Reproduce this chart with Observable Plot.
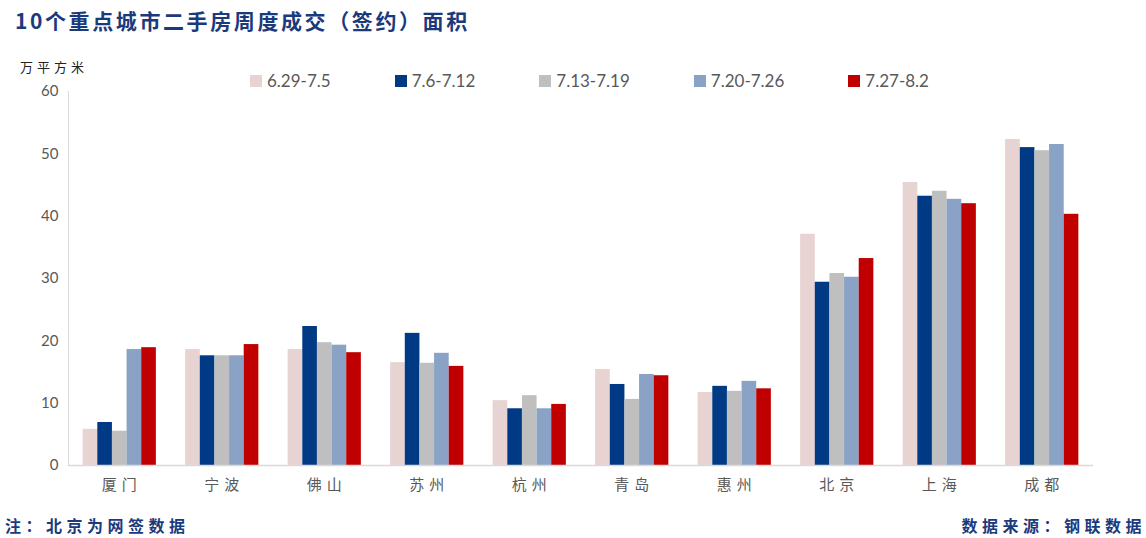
<!DOCTYPE html>
<html>
<head>
<meta charset="utf-8">
<script src="https://cdn.jsdelivr.net/npm/d3@7"></script>
<script src="https://cdn.jsdelivr.net/npm/@observablehq/plot@0.6"></script>
<style>
  html, body { margin: 0; padding: 0; background: #fff; }
  #wrap { position: relative; width: 1146px; height: 538px; overflow: hidden; font-family: "Noto Sans CJK SC", "Noto Sans", sans-serif; }
  #chart { position: absolute; left: 0; top: 0; }
  #chart g[aria-label="x-axis tick label"] text { letter-spacing: 5px; }
  .title { position: absolute; left: 15px; top: 5px; font-size: 21px; font-weight: 700; color: #1B3A7C; letter-spacing: 2.6px; white-space: nowrap; }
  .unit { position: absolute; left: 20px; top: 57px; font-size: 13px; color: #222; letter-spacing: 4px; }
  .legend { position: absolute; left: 250px; top: 70px; display: flex; gap: 64px; font-family: Lato, "Noto Sans", sans-serif; font-size: 17px; color: #595959; }
  .legend .item { display: flex; align-items: center; }
  .legend .sw { width: 12px; height: 12px; margin-right: 5px; }
  .foot { position: absolute; top: 513px; font-size: 16px; font-weight: 700; color: #1B3A7C; letter-spacing: 4.5px; white-space: nowrap; }
</style>
</head>
<body>
<div id="wrap">
  <div id="chart"></div>
  <div class="title">10个重点城市二手房周度成交（签约）面积</div>
  <div class="unit">万平方米</div>
  <div class="legend" id="legend"></div>
  <div class="foot" style="left:5px;">注：北京为网签数据</div>
  <div class="foot" style="right:0px;">数据来源：钢联数据</div>
</div>
<script>
const cities = ["厦门","宁波","佛山","苏州","杭州","青岛","惠州","北京","上海","成都"];
const periods = ["6.29-7.5","7.6-7.12","7.13-7.19","7.20-7.26","7.27-8.2"];
const week1 = [5.8, 18.6, 18.6, 16.5, 10.4, 15.4, 11.7, 37.1, 45.4, 52.3];
const week2 = [6.9, 17.6, 22.3, 21.2, 9.1, 13.0, 12.7, 29.4, 43.2, 51.0];
const week3 = [5.5, 17.6, 19.7, 16.4, 11.2, 10.6, 11.9, 30.8, 44.0, 50.5];
const week4 = [18.6, 17.6, 19.3, 18.0, 9.1, 14.6, 13.5, 30.2, 42.7, 51.5];
const week5 = [18.9, 19.4, 18.1, 15.9, 9.8, 14.4, 12.3, 33.2, 42.0, 40.3];
const yTicks = [0, 10, 20, 30, 40, 50, 60];
const colors = ["#E8D3D3", "#003A84", "#BFBFBF", "#8AA2C6", "#C00000"];

const series = [week1, week2, week3, week4, week5];
const rows = [];
cities.forEach((c, i) => {
  periods.forEach((p, j) => {
    rows.push({city: c, period: p, key: c + "|" + p, value: series[j][i]});
  });
});
// band domain: one empty slot on each side of every city group
const xDomain = cities.flatMap(c => [c + "|<", ...periods.map(p => c + "|" + p), c + "|>"]);
const xTicks = cities.map(c => c + "|" + periods[2]);

const chart = Plot.plot({
  width: 1146,
  height: 538,
  marginLeft: 68,
  marginRight: 53,
  marginTop: 91,
  marginBottom: 73,
  style: {fontFamily: "Lato, 'Noto Sans', sans-serif", background: "#fff"},
  x: {type: "band", domain: xDomain, padding: 0, axis: null},
  y: {domain: [0, 60], axis: null},
  color: {domain: periods, range: colors},
  marks: [
    Plot.frame({anchor: "left", stroke: "#D9D9D9"}),
    Plot.barY(rows, {x: "key", y: "value", fill: "period"}),
    Plot.ruleY([0], {stroke: "#D9D9D9", strokeWidth: 1.5}),
    Plot.axisY({ticks: yTicks, tickSize: 0, tickPadding: 10, fontSize: 15, fill: "#595959", label: null}),
    Plot.axisX({ticks: xTicks, tickFormat: k => k.split("|")[0], tickSize: 0, tickPadding: 14, dx: 2, fontSize: 15, fill: "#595959", label: null, fontFamily: "'Noto Sans CJK SC', sans-serif"})
  ]
});
document.getElementById("chart").appendChild(chart);

const legend = document.getElementById("legend");
periods.forEach((p, i) => {
  const item = document.createElement("div");
  item.className = "item";
  const sw = document.createElement("div");
  sw.className = "sw";
  sw.style.background = colors[i];
  const t = document.createElement("span");
  t.textContent = p;
  item.appendChild(sw);
  item.appendChild(t);
  legend.appendChild(item);
});
</script>
</body>
</html>
